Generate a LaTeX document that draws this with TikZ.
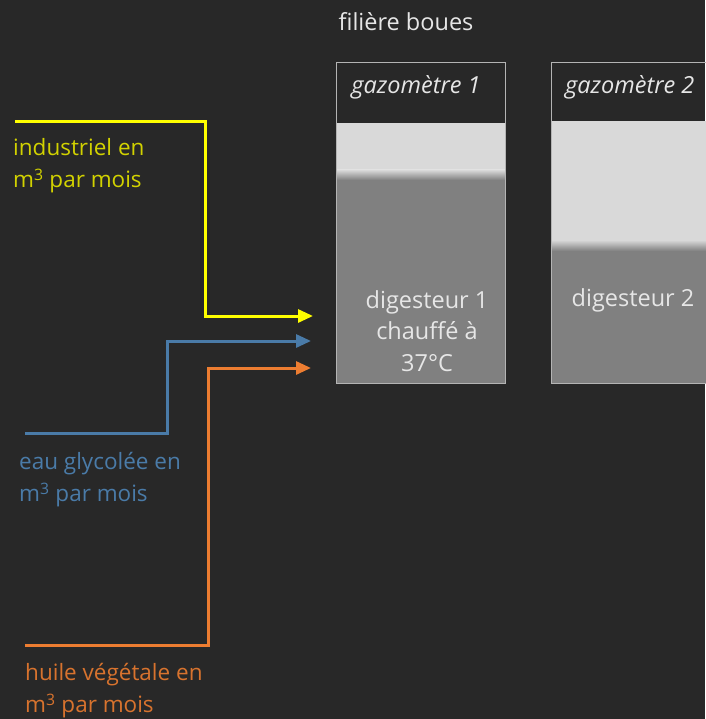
\documentclass[tikz,border=0pt]{standalone}
\usepackage{fontspec}
\setmainfont{Open Sans}
\usetikzlibrary{arrows.meta}
\definecolor{bg}{HTML}{282828}
\definecolor{frame}{HTML}{B4B4B4}
\definecolor{gasc}{HTML}{D9D9D9}
\definecolor{liq}{HTML}{808080}
\definecolor{txt}{HTML}{E6E6E6}
\definecolor{yel}{HTML}{FFFF00}
\definecolor{yeltxt}{HTML}{D2D200}
\definecolor{blu}{HTML}{4A7BA8}
\definecolor{org}{HTML}{ED7D31}
\definecolor{orgtxt}{HTML}{D8732E}
\tikzset{
  lbl/.style={font=\fontsize{22.5}{32}\selectfont, align=left, anchor=west, inner sep=0pt},
  tank/.style={font=\fontsize{23.5}{31.5}\selectfont, text=txt, align=center, inner sep=0pt},
  feed/.style={line width=3pt, -{Triangle[length=15pt,width=13pt]}},
}
\begin{document}
\begin{tikzpicture}[x=1pt,y=-1pt]
\fill[bg] (0,0) rectangle (705,719);
\useasboundingbox (0,0) rectangle (705,719);
% title
\node[tank, text=txt] (title) at (406,22) {filière boues};
% tank 1
\fill[gasc] (336,123) rectangle (505,170);
\shade[top color=gasc, bottom color=liq] (336,170) rectangle (505,180);
\fill[liq] (336,180) rectangle (505,383);
\draw[frame, line width=0.8pt] (336,62) rectangle (505,383);
\node[tank] (g1) at (416,87) {\itshape gazomètre 1};
\node[tank] (d1) at (427,331) {digesteur 1\\chauffé à\\37°C};
% tank 2
\fill[gasc] (551,121) rectangle (706,240);
\shade[top color=gasc, bottom color=liq] (551,240) rectangle (706,251);
\fill[liq] (551,251) rectangle (706,383);
\draw[frame, line width=0.8pt] (706,62) -- (551,62) -- (551,383) -- (706,383);
\node[tank, anchor=west] (g2) at (565,87) {\itshape gazomètre 2};
\node[tank] (d2) at (633,300) {digesteur 2};
% inputs
\coordinate (ys) at (15,122);
\coordinate (ye) at (313,316);
\coordinate (bs) at (25,433);
\coordinate (be) at (311,341);
\coordinate (os) at (25,645);
\coordinate (oe) at (311,368);
\draw[feed, yel] (ys) -| (205,316) -- (ye);
\draw[feed, blu] (bs) -| (167,341) -- (be);
\draw[feed, org] (os) -| (208,368) -- (oe);
\node[lbl, text=yeltxt] (ly) at (13,166) {industriel en\\m\textsuperscript{3} par mois};
\node[lbl, text=blu] (lb) at (19,480) {eau glycolée en\\m\textsuperscript{3} par mois};
\node[lbl, text=orgtxt] (lo) at (25,691) {huile végétale en\\m\textsuperscript{3} par mois};
\end{tikzpicture}
\end{document}
